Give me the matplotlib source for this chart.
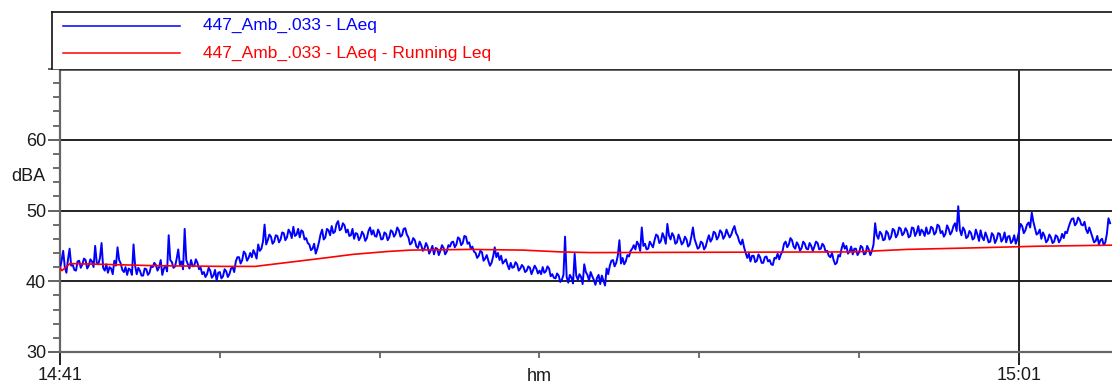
import numpy as np
import matplotlib.pyplot as plt
import matplotlib.transforms as mtransforms

plt.rcParams['font.family'] = ['Liberation Sans', 'DejaVu Sans']

# LAeq samples, one every 4 s from 14:41 (one row per minute)
step_s = 4
laeq = [
    41.8, 44.3, 41.2, 44.6, 42.3, 41.5, 42.9, 42.4, 43.0, 42.2, 42.8, 45.0, 42.4, 45.4, 41.5,
    41.2, 41.8, 42.9, 44.8, 42.5, 41.3, 40.9, 41.6, 45.2, 41.0, 41.5, 40.8, 41.7, 41.2, 42.0,
    42.3, 42.0, 40.9, 42.2, 46.5, 42.7, 42.1, 44.5, 42.8, 47.4, 42.4, 43.0, 42.2, 42.6, 41.9,
    41.3, 41.0, 41.5, 40.8, 40.1, 41.3, 40.7, 41.4, 41.0, 42.0, 42.8, 43.4, 43.0, 43.9, 43.3,
    43.4, 43.9, 45.2, 44.6, 48.0, 45.8, 46.3, 45.6, 46.4, 45.9, 46.8, 46.2, 46.9, 47.7, 46.6,
    46.2, 47.0, 46.1, 45.2, 44.6, 43.9, 45.5, 47.3, 46.2, 47.2, 47.8, 47.0, 48.5, 47.4, 47.9,
    47.3, 46.5, 46.0, 46.7, 46.2, 46.6, 46.1, 47.6, 47.2, 46.3, 46.8, 46.0, 46.7, 46.2, 47.0,
    46.7, 47.2, 46.5, 47.5, 46.2, 45.4, 45.8, 44.7, 45.1, 44.6, 44.9, 44.4, 43.8, 44.6, 44.3,
    44.7, 44.2, 44.9, 45.6, 45.2, 46.0, 45.4, 46.3, 45.5, 44.9, 44.0, 43.6, 44.1, 43.2, 42.9,
    42.6, 44.8, 44.0, 43.6, 42.8, 42.3, 42.6, 42.0, 42.4, 41.8, 42.0, 41.5, 41.9, 41.6, 41.8,
    41.5, 42.0, 41.4, 41.8, 41.0, 40.4, 40.8, 40.2, 46.3, 39.8, 40.5, 43.9, 40.2, 40.6, 42.4,
    40.9, 41.3, 40.2, 40.5, 39.6, 40.1, 41.8, 42.2, 43.0, 42.6, 45.8, 43.3, 42.8, 43.5, 44.6,
    44.5, 45.2, 47.6, 45.3, 44.6, 45.2, 45.8, 46.4, 45.7, 46.2, 48.1, 45.9, 46.4, 45.5, 46.0,
    45.5, 45.9, 45.2, 47.6, 45.3, 44.8, 45.4, 44.9, 46.5, 46.0, 46.8, 46.3, 46.9, 46.4, 46.7,
    46.6, 47.8, 46.4, 45.2, 44.8, 43.3, 42.8, 43.6, 42.9, 43.4, 42.6, 43.5, 43.0, 42.3, 43.2,
    43.1, 44.2, 45.6, 45.2, 45.8, 44.6, 45.1, 44.7, 45.3, 44.5, 45.0, 44.9, 45.4, 44.6, 45.0,
    44.3, 43.4, 43.0, 42.6, 43.5, 45.4, 45.0, 44.2, 43.8, 44.6, 44.1, 44.8, 43.9, 44.5, 44.3,
    48.2, 46.0, 46.7, 45.9, 46.8, 46.3, 47.2, 46.6, 47.4, 46.8, 47.1, 46.4, 47.5, 46.9, 46.5,
    47.0, 47.6, 46.8, 47.5, 46.9, 47.8, 47.1, 46.7, 47.4, 47.0, 48.2, 50.6, 46.5, 47.2, 46.3,
    46.8, 46.1, 46.6, 47.2, 45.8, 46.3, 45.6, 46.5, 45.9, 46.7, 46.0, 45.5, 46.4, 45.7, 45.3,
    47.0, 47.8, 47.2, 48.3, 49.7, 47.5, 46.8, 46.0, 46.4, 45.8, 46.2, 45.6, 46.3, 45.9, 46.1,
    46.8, 48.3, 48.9, 48.2, 48.7, 47.9, 47.3, 47.6, 46.2, 45.7, 45.2, 46.0, 45.5, 48.9,
]
# samples 2 s after each of the above
laeq_half = [
    42.9, 42.0, 43.1, 42.2, 41.6, 42.8, 41.9, 43.2, 41.8, 43.1, 42.0, 42.6, 43.3, 41.9, 42.4,
    42.0, 41.0, 42.2, 43.0, 41.6, 42.0, 41.8, 40.9, 42.2, 41.9, 40.8, 41.8, 40.9, 42.1, 42.6,
    41.5, 43.0, 41.8, 41.4, 43.0, 41.9, 43.2, 42.3, 41.7, 43.0, 41.8, 42.1, 43.1, 41.7, 41.0,
    40.6, 41.9, 40.5, 41.6, 41.2, 40.4, 41.7, 40.6, 41.8, 41.3, 43.4, 42.5, 44.2, 42.9, 44.0,
    44.4, 43.2, 44.3, 45.6, 45.2, 46.6, 45.3, 46.5, 45.5, 46.9, 45.8, 47.3, 46.1, 46.4, 47.4,
    47.2, 45.9, 45.4, 44.4, 45.3, 44.6, 46.6, 45.9, 47.4, 46.5, 46.8, 48.1, 47.2, 48.2, 46.9,
    46.4, 47.4, 46.8, 45.8, 47.0, 45.7, 47.1, 46.6, 46.4, 47.3, 45.9, 46.9, 45.8, 47.2, 46.3,
    47.6, 46.3, 47.4, 46.6, 45.2, 46.1, 44.9, 45.6, 44.3, 45.4, 43.9, 45.0, 44.7, 43.7, 45.1,
    43.8, 45.1, 45.5, 44.8, 46.2, 45.1, 46.4, 45.3, 44.6, 44.2, 43.3, 44.3, 42.9, 43.7, 42.2,
    43.5, 43.4, 43.0, 42.5, 43.1, 41.7, 41.9, 42.7, 41.5, 42.3, 41.3, 42.1, 41.0, 42.2, 41.1,
    41.0, 41.2, 42.1, 40.7, 40.5, 41.1, 39.9, 40.9, 40.6, 40.9, 39.7, 40.8, 41.0, 39.6, 41.3,
    40.1, 40.7, 39.5, 40.9, 40.8, 39.4, 41.0, 42.9, 42.1, 43.6, 42.5, 42.4, 43.7, 44.3, 45.1,
    45.6, 44.3, 45.0, 44.5, 45.6, 44.8, 46.6, 45.4, 46.8, 45.3, 46.5, 46.8, 45.3, 46.6, 45.2,
    46.3, 44.9, 46.3, 46.0, 44.6, 45.6, 44.5, 45.8, 45.6, 47.0, 45.9, 47.2, 46.0, 47.3, 46.2,
    47.3, 46.8, 45.6, 45.9, 44.0, 43.9, 43.6, 42.7, 43.8, 42.6, 43.4, 42.8, 42.4, 43.3, 43.9,
    43.8, 45.3, 44.8, 46.1, 44.9, 45.5, 44.3, 45.6, 44.6, 45.4, 44.3, 45.6, 44.5, 45.3, 44.2,
    43.6, 44.0, 42.4, 43.7, 44.6, 44.6, 43.9, 44.9, 44.6, 43.7, 45.0, 43.8, 45.0, 43.7, 45.2,
    46.5, 47.0, 45.8, 47.1, 45.9, 47.4, 46.2, 47.6, 46.5, 47.5, 46.2, 47.6, 46.4, 47.8, 47.3,
    46.4, 46.7, 47.7, 46.6, 48.0, 46.8, 46.3, 47.9, 46.6, 47.8, 47.1, 47.3, 47.6, 46.1, 47.1,
    45.9, 47.3, 45.7, 46.2, 46.9, 45.5, 46.8, 45.4, 46.8, 45.6, 46.9, 46.3, 45.4, 46.5, 46.0,
    48.1, 46.8, 48.0, 47.6, 48.4, 46.6, 47.3, 46.9, 45.5, 46.6, 45.4, 46.5, 45.5, 46.7, 47.0,
    47.6, 48.8, 47.9, 49.0, 48.0, 48.4, 46.8, 46.9, 45.5, 46.4, 45.8, 45.1, 46.7, 48.2,
]

# running Leq (minutes from 14:41, dBA)
run_t = [0.0, 0.04, 0.21, 0.83, 1.98, 3.38, 4.07, 4.8, 5.53, 6.11, 6.82, 7.30,
         8.55, 9.66, 10.43, 11.05, 13.76, 16.58, 17.66, 19.25, 20.38, 21.94]
run_leq = [42.0, 41.5, 42.5, 42.4, 42.2, 42.1, 42.1, 42.7, 43.3, 43.8, 44.2, 44.4,
           44.5, 44.4, 44.15, 44.05, 44.1, 44.15, 44.5, 44.75, 44.95, 45.1]

x_major = [0, 20]
x_major_labels = ['14:41', '15:01']
x_minor = [10 / 3 * k for k in range(1, 7)]
y_major = [30, 40, 50, 60, 70]
y_major_labels = ['30', '40', '50', '60', '']
y_grid = [40, 50, 60]

# merge the two sample sets into one 2 s series
t_a = np.arange(len(laeq)) * step_s
t_b = t_a + step_s / 2
t_sec = np.column_stack([t_a, t_b]).ravel()
level = np.column_stack([laeq, laeq_half]).ravel()
t_min = t_sec / 60.0

W, H = 1112, 387
fig = plt.figure(figsize=(W / 100, H / 100), dpi=100)
ax = fig.add_axes([60 / W, 35 / H, 1052 / W, 283 / H])

for g in y_grid:
    ax.axhline(g, color='#111111', lw=1.3, zorder=1)
ax.axvline(20, color='#111111', lw=1.3, zorder=1)

ax.plot(t_min, level, color='#0000ff', lw=1.4, zorder=3)
ax.plot(run_t, run_leq, color='#ff0000', lw=1.2, zorder=4)

ax.set_xlim(0, 21.94)
ax.set_ylim(30, 70)
ax.set_xticks(x_major)
ax.set_xticklabels(x_major_labels)
ax.set_xticks(x_minor, minor=True)
ax.set_yticks(y_major)
ax.set_yticklabels(y_major_labels)
ax.set_yticks(np.arange(32, 70, 2), minor=True)

ax.tick_params(axis='both', which='major', labelsize=13, colors='#555555',
               labelcolor='#1a1a1a', width=1.3)
ax.tick_params(axis='y', which='major', length=9, pad=1)
ax.tick_params(axis='y', which='minor', length=5, width=1.2, colors='#555555')
ax.tick_params(axis='x', which='major', length=9, pad=2, colors='#111111', labelcolor='#1a1a1a')
ax.tick_params(axis='x', which='minor', length=4.5, width=1.2, colors='#555555')

for side in ['left', 'bottom']:
    ax.spines[side].set_color('#666666')
    ax.spines[side].set_linewidth(1.6)
ax.spines['top'].set_color('#333333')
ax.spines['top'].set_linewidth(1.8)
ax.spines['right'].set_visible(False)

trans = mtransforms.blended_transform_factory(ax.transData, ax.transAxes)
ax.text(10, -0.085, 'hm', transform=trans, ha='center', va='center',
        fontsize=13, color='#1a1a1a')
fig.text(28 / W, 1 - 177 / H, 'dBA', ha='center', va='center',
         fontsize=13, color='#1a1a1a')

# legend box above the plot
lax = fig.add_axes([52 / W, 1 - 69 / H, 1060 / W, 57 / H])
lax.set_xlim(0, 1060)
lax.set_ylim(57, 0)
lax.set_xticks([])
lax.set_yticks([])
for side in ['right', 'bottom']:
    lax.spines[side].set_visible(False)
for side in ['left', 'top']:
    lax.spines[side].set_color('#111111')
    lax.spines[side].set_linewidth(1.2)
lax.plot([11, 128], [13.5, 13.5], color='#0000ff', lw=1.1)
lax.plot([11, 128], [41.3, 41.3], color='#ff0000', lw=1.1)
lax.text(151, 13, '447_Amb_.033 - LAeq', color='#0000ff', fontsize=12.5, va='center')
lax.text(151, 41, '447_Amb_.033 - LAeq - Running Leq', color='#ff0000', fontsize=12.5, va='center')

fig.savefig('out.png', dpi=100)
